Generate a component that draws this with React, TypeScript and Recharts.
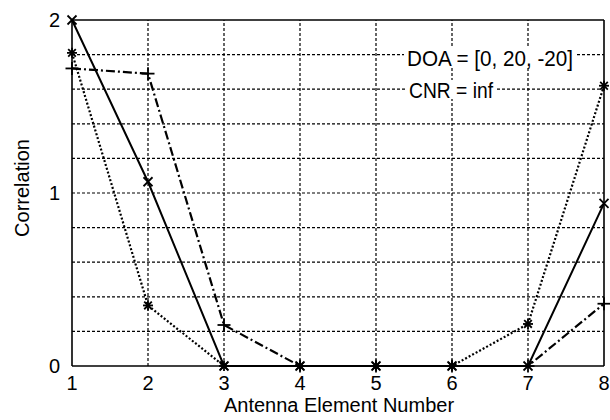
import React from 'react';
import { LineChart, Line, XAxis, YAxis, CartesianGrid, ReferenceLine } from 'recharts';

const elements = [1, 2, 3, 4, 5, 6, 7, 8];
const solidX = [2.0, 1.065, 0, 0, 0, 0, 0, 0.94];
const dottedStar = [1.81, 0.35, 0, 0, 0, 0, 0.243, 1.62];
const dashDotPlus = [1.72, 1.69, 0.237, 0, 0, 0, 0, 0.36];
const xTicks = [1, 2, 3, 4, 5, 6, 7, 8];
const yTicks = [0, 1, 2];
const gridY = [0.2, 0.4, 0.6, 0.8, 1.0, 1.2, 1.4, 1.6, 1.8];
const gridX = [2, 3, 4, 5, 6, 7];
const noteLines = ['DOA = [0, 20, -20]', 'CNR = inf'];
const xTitle = 'Antenna Element Number';
const yTitle = 'Correlation';

const data = elements.map((e, i) => ({
  x: e,
  a: solidX[i],
  b: dottedStar[i],
  c: dashDotPlus[i],
}));

const FONT = '"Liberation Sans", Arial, Helvetica, sans-serif';

const XMark = (p: any) => {
  const { cx, cy } = p;
  if (cx == null || cy == null) return <g key={p.index} />;
  const s = 4.5;
  return (
    <g key={`xm-${p.index}`} stroke="#000" strokeWidth={1.8}>
      <line x1={cx - s} y1={cy - s} x2={cx + s} y2={cy + s} />
      <line x1={cx - s} y1={cy + s} x2={cx + s} y2={cy - s} />
    </g>
  );
};

const StarMark = (p: any) => {
  const { cx, cy } = p;
  if (cx == null || cy == null) return <g key={p.index} />;
  const s = 5;
  const d = 3.8;
  return (
    <g key={`st-${p.index}`} stroke="#000" strokeWidth={1.8}>
      <line x1={cx - s} y1={cy} x2={cx + s} y2={cy} />
      <line x1={cx} y1={cy - s} x2={cx} y2={cy + s} />
      <line x1={cx - d} y1={cy - d} x2={cx + d} y2={cy + d} />
      <line x1={cx - d} y1={cy + d} x2={cx + d} y2={cy - d} />
    </g>
  );
};

const PlusMark = (p: any) => {
  const { cx, cy } = p;
  if (cx == null || cy == null) return <g key={p.index} />;
  const s = 6.5;
  return (
    <g key={`pl-${p.index}`} stroke="#000" strokeWidth={1.8}>
      <line x1={cx - s} y1={cy} x2={cx + s} y2={cy} />
      <line x1={cx} y1={cy - s} x2={cx} y2={cy + s} />
    </g>
  );
};

export default function App() {
  return (
    <div style={{ position: 'absolute', left: 0, top: 0, width: 610, height: 420, background: '#fff' }}>
      <LineChart
        width={610}
        height={420}
        data={data}
        margin={{ top: 20, right: 6, bottom: 24, left: 22 }}
      >
        <CartesianGrid horizontal={false} vertical={false} />
        {gridY.map((v) => (
          <ReferenceLine key={`gy-${v}`} y={v} stroke="#000" strokeWidth={1.2} strokeDasharray="3 2" />
        ))}
        {gridX.map((v) => (
          <ReferenceLine key={`gx-${v}`} x={v} stroke="#000" strokeWidth={1.2} strokeDasharray="3 2" />
        ))}
        <ReferenceLine y={2} stroke="#000" strokeWidth={1.6} />
        <ReferenceLine x={8} stroke="#000" strokeWidth={1.6} />
        <XAxis
          dataKey="x"
          type="number"
          domain={[1, 8]}
          ticks={xTicks}
          height={30}
          tickLine={false}
          tickSize={6}
          tickMargin={4}
          axisLine={{ stroke: '#000', strokeWidth: 1.6 }}
          tick={{ fill: '#000', fontSize: 20, fontFamily: FONT }}
          interval={0}
        />
        <YAxis
          type="number"
          domain={[0, 2]}
          ticks={yTicks}
          width={50}
          tickLine={false}
          tickSize={6}
          tickMargin={6}
          axisLine={{ stroke: '#000', strokeWidth: 1.6 }}
          tick={{ fill: '#000', fontSize: 20, fontFamily: FONT }}
          interval={0}
        />
        <Line
          type="linear"
          dataKey="b"
          stroke="#000"
          strokeWidth={2.2}
          strokeDasharray="2 2"
          dot={StarMark}
          activeDot={false}
          isAnimationActive={false}
        />
        <Line
          type="linear"
          dataKey="c"
          stroke="#000"
          strokeWidth={2.2}
          strokeDasharray="9 3 2 3"
          dot={PlusMark}
          activeDot={false}
          isAnimationActive={false}
        />
        <Line
          type="linear"
          dataKey="a"
          stroke="#000"
          strokeWidth={2}
          dot={XMark}
          activeDot={false}
          isAnimationActive={false}
        />
        <g fontFamily={FONT} fill="#000">
          <text x={339} y={412} fontSize={20} textAnchor="middle">
            {xTitle}
          </text>
          <text x={29} y={188} fontSize={20} textAnchor="middle" transform="rotate(-90 29 188)">
            {yTitle}
          </text>
        </g>
      </LineChart>
      <svg
        width={610}
        height={420}
        style={{ position: 'absolute', left: 0, top: 0, pointerEvents: 'none' }}
      >
        <g fontFamily={FONT} fill="#000">
          <rect x={404} y={47} width={173} height={20} fill="#fff" />
          <rect x={405} y={80} width={91} height={19} fill="#fff" />
          <text x={407} y={66} fontSize={22} textLength={166} lengthAdjust="spacingAndGlyphs">
            {noteLines[0]}
          </text>
          <text x={409} y={98} fontSize={22} textLength={84} lengthAdjust="spacingAndGlyphs">
            {noteLines[1]}
          </text>
        </g>
      </svg>
    </div>
  );
}
